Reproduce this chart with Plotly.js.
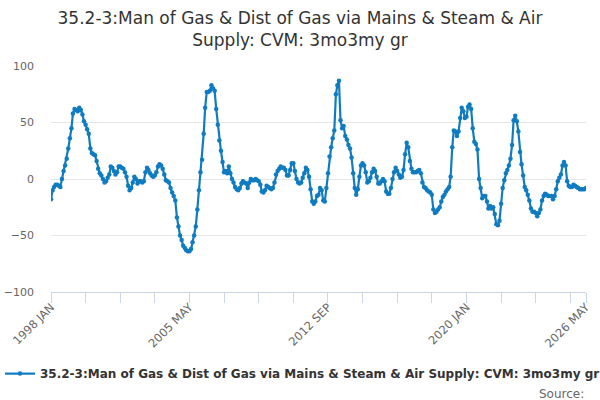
<!DOCTYPE html>
<html>
<head>
<meta charset="utf-8">
<script src="https://cdn.plot.ly/plotly-3.0.1.min.js"></script>
<style>html,body{margin:0;padding:0;background:#fff;}#chart{width:600px;height:400px;}</style>
</head>
<body>
<div id="chart"></div>
<script>
// Monthly series, 1998 JAN .. 2026 MAY
var startYear = 1998;
var startMonth = 0; // JAN
var seriesName = "35.2-3:Man of Gas & Dist of Gas via Mains & Steam & Air Supply: CVM: 3mo3my gr";
var values = [
  // 1998
  -18, -10, -7, -5, -5, -6, -7, 0, 7, 12, 18, 27,
  // 1999
  36, 45, 58, 62, 61, 60, 63, 61, 57, 51, 48, 44,
  // 2000
  40, 27, 23, 22, 21, 16, 9, 5, 3, 0, -3, -2,
  // 2001
  1, 4, 11, 10, 7, 4, 6, 11, 11, 10, 9, 6,
  // 2002
  2, -6, -10, -8, -3, 2, 0, -4, -2, -2, -3, -2,
  // 2003
  6, 10, 8, 5, 3, 2, 3, 6, 11, 13, 12, 9,
  // 2004
  4, -1, -2, -3, -8, -12, -15, -19, -34, -42, -50, -54,
  // 2005
  -59, -61, -63, -64, -64, -62, -56, -50, -42, -27, -10, 6,
  // 2006
  17, 40, 63, 77, 77, 78, 83, 80, 78, 62, 48, 34,
  // 2007
  25, 15, 6, 7, 5, 11, 5, 0, -3, -7, -9, -10,
  // 2008
  -8, -4, -2, -3, -4, -8, -3, 0, -1, -1, 0, -1,
  // 2009
  -2, -5, -11, -12, -10, -6, -7, -8, -9, -8, -3, 4,
  // 2010
  7, 9, 11, 10, 10, 8, 3, 3, 8, 14, 14, 7,
  // 2011
  0, -3, -4, -3, 1, 5, 10, 8, 2, -9, -20, -22,
  // 2012
  -20, -15, -14, -8, -10, -19, -20, -8, 5, 20, 28, 36,
  // 2013
  43, 75, 83, 87, 52, 45, 47, 38, 35, 30, 27, 19,
  // 2014
  5, -8, -14, -9, 2, 12, 14, 12, 6, -3, -2, 1,
  // 2015
  6, 9, 7, 2, -4, -4, -2, 0, -2, -11, -13, -13,
  // 2016
  -8, 0, 6, 10, 7, 4, 1, 2, 8, 22, 32, 28,
  // 2017
  16, 9, 6, 6, 6, 7, 8, 5, -3, -7, -8, -10,
  // 2018
  -11, -12, -14, -27, -30, -29, -27, -25, -20, -16, -14, -11,
  // 2019
  -9, -7, 2, 28, 43, 42, 38, 42, 54, 63, 60, 54,
  // 2020
  55, 64, 66, 62, 45, 33, 31, 26, 0, -8, -17, -15,
  // 2021
  -15, -20, -26, -24, -26, -25, -31, -40, -41, -37, -22, -8,
  // 2022
  -1, 5, 8, 12, 18, 30, 52, 56, 51, 42, 24, 13,
  // 2023
  3, -7, -10, -14, -19, -26, -29, -29, -30, -33, -30, -27,
  // 2024
  -19, -15, -13, -14, -15, -15, -15, -18, -15, -9, -2, 1,
  // 2025
  4, 12, 15, 12, -2, -6, -7, -7, -5, -6, -7, -8,
  // 2026
  -9, -9, -9, -9, -8
];
var monthNames = ["JAN","FEB","MAR","APR","MAY","JUN","JUL","AUG","SEP","OCT","NOV","DEC"];
var tickLabels = ["1998 JAN", "2005 MAY", "2012 SEP", "2020 JAN", "2026 MAY"];
var tickDates = ["1998-01-01", "2005-05-01", "2012-09-01", "2020-01-01", "2026-05-01"];
var yTicks = [-100, -50, 0, 50, 100];

function pad(n){ return (n < 10 ? "0" : "") + n; }
var dates = [], hoverLabels = [];
for (var i = 0; i < values.length; i++) {
  var m = startMonth + i;
  var y = startYear + Math.floor(m / 12);
  var mm = m % 12;
  dates.push(y + "-" + pad(mm + 1) + "-01");
  hoverLabels.push(y + " " + monthNames[mm]);
}

var lineColor = "#0f7cc1";
var trace = {
  x: dates,
  y: values,
  text: hoverLabels,
  type: "scatter",
  mode: "lines+markers",
  name: seriesName,
  line: {color: lineColor, width: 2.2},
  marker: {color: lineColor, size: 4.5, symbol: "circle"},
  hovertemplate: "%{text}: %{y}<extra></extra>"
};

var layout = {
  width: 600,
  height: 400,
  paper_bgcolor: "#ffffff",
  plot_bgcolor: "#ffffff",
  font: {family: "DejaVu Sans, sans-serif", color: "#666666", size: 11},
  title: {
    text: "35.2-3:Man of Gas &amp; Dist of Gas via Mains &amp; Steam &amp; Air<br>Supply: CVM: 3mo3my gr",
    font: {family: "DejaVu Sans, sans-serif", size: 17, color: "#333333"},
    x: 0.5,
    xanchor: "center",
    y: 0.94,
    yanchor: "top"
  },
  margin: {l: 51, r: 14, t: 66, b: 108},
  showlegend: true,
  legend: {
    orientation: "h",
    x: 0.5,
    xanchor: "center",
    y: -0.297,
    yanchor: "top",
    font: {family: "DejaVu Sans, sans-serif", size: 12, color: "#333333", weight: "bold"},
    itemwidth: 30,
    bgcolor: "rgba(0,0,0,0)"
  },
  xaxis: {
    type: "date",
    range: [tickDates[0], tickDates[tickDates.length - 1]],
    tickmode: "array",
    tickvals: tickDates,
    ticktext: tickLabels,
    tickangle: -45,
    ticks: "outside",
    ticklen: 10,
    tickcolor: "#ccd6eb",
    tickwidth: 1,
    ticklabelstandoff: -7,
    showline: true,
    linecolor: "#ccd6eb",
    linewidth: 1,
    showgrid: false,
    zeroline: false,
    tickfont: {size: 11.5, color: "#666666"},
    minor: {
      dtick: "M22",
      tick0: tickDates[0],
      ticks: "outside",
      ticklen: 10,
      tickcolor: "#ccd6eb",
      tickwidth: 1,
      showgrid: false
    },
    fixedrange: true
  },
  yaxis: {
    range: [-100, 100],
    tickmode: "array",
    tickvals: yTicks,
    showgrid: true,
    gridcolor: "#e6e6e6",
    gridwidth: 1,
    zeroline: false,
    showline: false,
    ticks: "",
    ticklabelstandoff: 16,
    tickfont: {size: 11, color: "#666666"},
    fixedrange: true
  },
  annotations: [{
    text: "Source:",
    xref: "paper", yref: "paper",
    x: 1.0, y: -0.41,
    xanchor: "right", yanchor: "top",
    showarrow: false,
    font: {family: "DejaVu Sans, sans-serif", size: 12, color: "#666666"}
  }]
};

Plotly.newPlot("chart", [trace], layout, {displayModeBar: false, staticPlot: true});
</script>
</body>
</html>
